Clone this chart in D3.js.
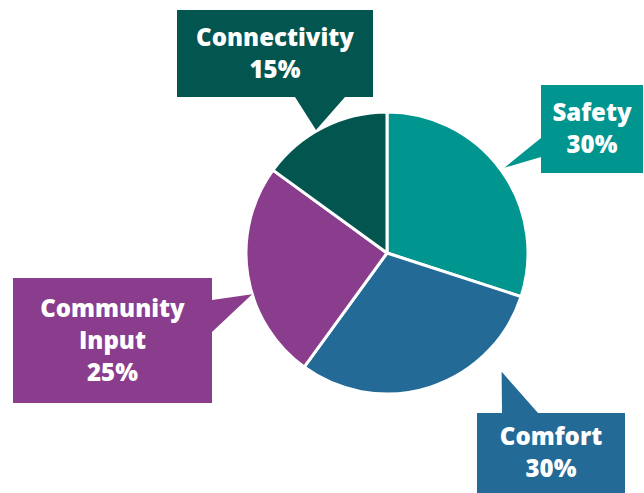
<!DOCTYPE html>
<html lang="en">
<head>
<meta charset="UTF-8">
<title>pie callouts</title>
<script src="https://d3js.org/d3.v7.min.js"></script>
<style>
  body { margin: 0; background: #fff; }
  text { font-family: "Open Sans", Lato, sans-serif; font-weight: 800; fill: #fff; }
</style>
</head>
<body>
<svg width="644" height="493"></svg>
<script>
// data
var categories = ["Safety", "Comfort", "Community Input", "Connectivity"];
var values = [30, 30, 25, 15];
var colors = ["#00958f", "#236a97", "#8a3d8c", "#03554f"];

// label lines shown in each callout
var labelLines = [["Safety", "30%"], ["Comfort", "30%"], ["Community", "Input", "25%"], ["Connectivity", "15%"]];

// callout layout: box [x, y, w, h], tail base points, tail tip (angle in degrees, radius)
var callouts = [
  { box: [541, 85, 102, 88], base: [[541, 138], [541, 157]], tip: [54, 145] },
  { box: [477, 413, 148, 80], base: [[538, 413], [502, 413]], tip: [136, 165] },
  { box: [13, 278, 199, 125], base: [[212, 300], [212, 332]], tip: [253, 141] },
  { box: [177, 10, 196, 87], base: [[295, 97], [345, 97]], tip: [330, 142] }
];

var svg = d3.select("svg");
var cx = 387, cy = 253, radius = 141;

var pie = d3.pie().sort(null).value(function (d) { return d; });
var arc = d3.arc().innerRadius(0).outerRadius(radius);
var arcs = pie(values);

var g = svg.append("g").attr("transform", "translate(" + cx + "," + cy + ")");

g.selectAll("path")
  .data(arcs)
  .enter()
  .append("path")
  .attr("d", arc)
  .attr("fill", function (d, i) { return colors[i]; })
  .attr("stroke", "#fff")
  .attr("stroke-width", 3)
  .attr("stroke-linejoin", "round");

// callouts
var co = svg.append("g");
callouts.forEach(function (c, i) {
  var a = c.tip[0] * Math.PI / 180;
  var tip = [cx + Math.sin(a) * c.tip[1], cy - Math.cos(a) * c.tip[1]];

  co.append("path")
    .attr("d", "M" + c.base[0] + "L" + tip + "L" + c.base[1] + "Z")
    .attr("fill", colors[i]);

  co.append("rect")
    .attr("x", c.box[0]).attr("y", c.box[1])
    .attr("width", c.box[2]).attr("height", c.box[3])
    .attr("fill", colors[i]);

  var lines = labelLines[i];
  var lh = 32;
  var midY = c.box[1] + c.box[3] / 2;
  var first = midY - (lines.length - 1) * lh / 2 + 8;
  var t = co.append("text")
    .attr("text-anchor", "middle")
    .attr("font-size", 24);
  lines.forEach(function (s, j) {
    t.append("tspan")
      .attr("x", c.box[0] + c.box[2] / 2)
      .attr("y", first + j * lh)
      .text(s);
  });
});
</script>
</body>
</html>
